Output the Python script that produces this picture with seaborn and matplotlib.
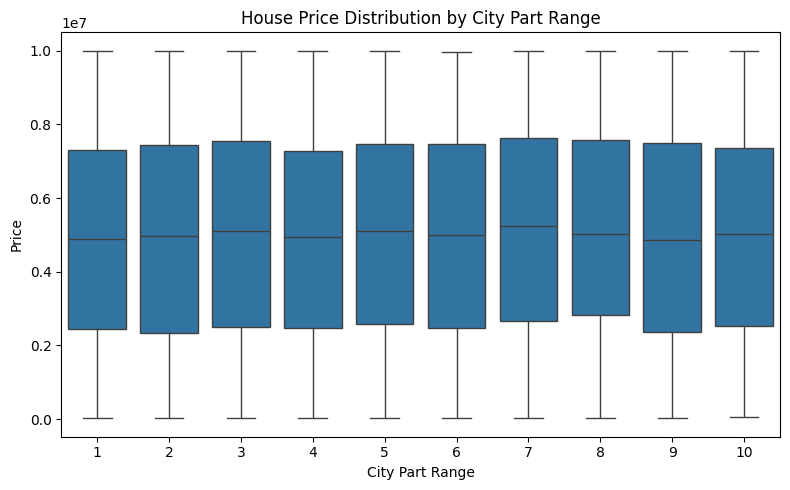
import pandas as pd
import matplotlib.pyplot as plt
import seaborn as sns

# ------------------ Box statistics (price in 1e7) ------------------
city_parts = [1, 2, 3, 4, 5, 6, 7, 8, 9, 10]
price_min = [0.002, 0.002, 0.002, 0.002, 0.002, 0.002, 0.002, 0.002, 0.002, 0.0045]
price_q1 = [0.244, 0.235, 0.249, 0.247, 0.257, 0.247, 0.265, 0.282, 0.236, 0.252]
price_median = [0.488, 0.497, 0.510, 0.494, 0.510, 0.4995, 0.524, 0.503, 0.487, 0.503]
price_q3 = [0.731, 0.744, 0.755, 0.728, 0.747, 0.747, 0.763, 0.758, 0.750, 0.736]
price_max = [1.0, 1.0, 1.0, 1.0, 1.0, 0.997, 1.0, 1.0, 1.0, 1.0]

# Five points per group reproduce the quartiles and whisker ends exactly
rows = []
for i, part in enumerate(city_parts):
    for v in (price_min[i], price_q1[i], price_median[i], price_q3[i], price_max[i]):
        rows.append({'cityPartRange': part, 'price': v * 1e7})
df = pd.DataFrame(rows)

# ------------------ Plot ------------------
plt.figure(figsize=(8, 5), dpi=100)
sns.boxplot(data=df, x='cityPartRange', y='price')
plt.title('House Price Distribution by City Part Range')
plt.xlabel('City Part Range')
plt.ylabel('Price')
plt.tight_layout()
plt.savefig("out.png", dpi=100, bbox_inches='tight')
